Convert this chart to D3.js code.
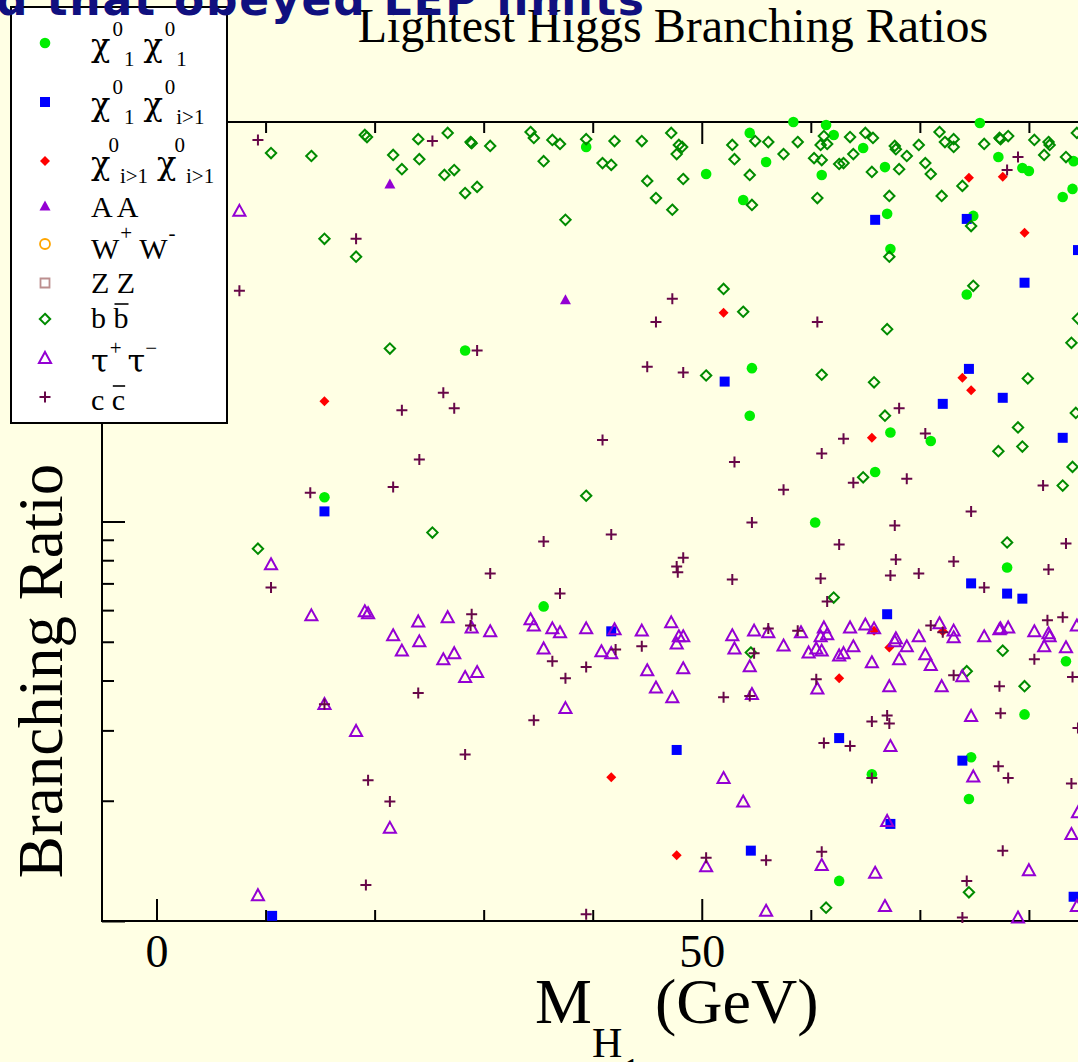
<!DOCTYPE html>
<html>
<head>
<meta charset="utf-8">
<script src="https://cdn.jsdelivr.net/npm/d3@7"></script>
<style>
  body { margin: 0; background: #ffffe4; }
  svg { display: block; font-family: "Liberation Serif", "Times New Roman", serif; }
</style>
</head>
<body>
<div id="chart"></div>
<script>
// [M_H1 (GeV), branching ratio]
const chi11 = [
  [58.4,1.000],[54.4,0.939],[39.4,0.866],[55.9,0.794],[50.4,0.741],[53.8,0.638],[28.3,0.268],[54.6,0.242],
  [54.4,0.184],[15.4,0.115],[35.5,0.0613],[60.4,0.0994],[67.3,0.167],[71.0,0.159],[65.9,0.133],[78.0,0.0767],
  [83.4,0.0447],[61.4,0.983],[62.1,0.928],[64.8,0.861],[61.0,0.737],[66.8,0.771],[67.0,0.589],[75.5,0.994],
  [77.2,0.817],[79.4,0.767],[80.0,0.754],[84.1,0.798],[84.0,0.680],[83.1,0.649],[74.9,0.582],[67.3,0.481],
  [74.3,0.370],[79.6,0.0329],[74.7,0.0257],[65.6,0.0233],[74.5,0.0202],[62.6,0.0126]
];
const chi1i = [
  [15.4,0.106],[52.1,0.224],[10.6,0.0103],[47.7,0.0268],[54.5,0.0150],[41.7,0.0531],[65.9,0.569],[74.3,0.572],
  [79.6,0.396],[84.5,0.478],[74.5,0.241],[77.6,0.204],[72.1,0.197],[83.1,0.162],[74.7,0.0700],[78.0,0.0660],
  [79.4,0.0641],[67.0,0.0586],[62.6,0.0287],[73.9,0.0252],[67.3,0.0175],[84.1,0.0115]
];
const chiii = [
  [15.4,0.200],[52.0,0.333],[41.7,0.0229],[47.7,0.0146],[74.5,0.725],[77.6,0.729],[79.6,0.528],[73.9,0.229],
  [74.7,0.213],[65.6,0.162],[65.8,0.0533],[67.2,0.0484],[62.6,0.0405],[72.1,0.0531]
];
const aa = [[21.4,0.700],[37.5,0.359]];
const ww = [];
const zz = [];
const bb = [
  [10.5,0.836],[14.2,0.822],[19.1,0.928],[19.3,0.917],[24.0,0.906],[21.7,0.827],[24.1,0.807],[22.5,0.762],
  [26.4,0.737],[26.7,0.939],[15.4,0.510],[18.3,0.460],[21.4,0.271],[28.8,0.891],[28.9,0.885],[30.6,0.871],
  [34.3,0.944],[34.6,0.912],[36.3,0.902],[37.0,0.881],[39.4,0.906],[42.0,0.896],[44.5,0.896],[47.2,0.939],
  [47.9,0.876],[48.2,0.866],[47.7,0.831],[35.5,0.798],[27.3,0.758],[40.9,0.789],[41.7,0.781],[28.3,0.664],
  [29.4,0.688],[45.0,0.712],[48.3,0.720],[45.8,0.645],[47.3,0.603],[37.5,0.569],[52.8,0.876],[53.0,0.807],
  [54.9,0.896],[56.1,0.891],[57.5,0.831],[58.8,0.891],[54.4,0.737],[54.6,0.620],[52.0,0.382],[53.8,0.335],
  [50.4,0.232],[61.2,0.922],[61.5,0.881],[60.9,0.876],[60.3,0.812],[61.0,0.803],[63.6,0.917],[63.9,0.831],
  [62.6,0.785],[63.0,0.789],[65.0,0.939],[65.7,0.912],[67.7,0.871],[67.8,0.855],[68.8,0.822],[69.9,0.876],
  [65.6,0.750],[68.1,0.762],[70.5,0.789],[71.0,0.741],[71.8,0.944],[72.3,0.891],[73.1,0.906],[73.1,0.866],
  [75.9,0.881],[77.3,0.912],[78.1,0.922],[77.4,0.906],[80.5,0.902],[81.8,0.891],[81.9,0.876],[81.4,0.827],
  [83.4,0.817],[84.4,0.939],[73.9,0.692],[60.6,0.645],[67.2,0.653],[72.0,0.653],[74.7,0.549],[67.2,0.460],
  [74.9,0.389],[67.0,0.303],[84.5,0.322],[83.9,0.280],[61.0,0.233],[65.8,0.223],[79.9,0.228],[66.8,0.184],
  [79.0,0.172],[77.2,0.150],[79.4,0.154],[84.0,0.137],[83.1,0.123],[64.8,0.129],[78.0,0.0886],[62.1,0.0645],
  [77.6,0.0475],[74.3,0.0422],[79.6,0.0387],[84.3,0.187],[25.3,0.0938],[9.3,0.0855],[39.4,0.116],[54.5,0.0470],
  [74.5,0.0118],[61.4,0.0108]
];
const tautau = [
  [7.6,0.599],[10.5,0.0781],[14.2,0.0582],[19.1,0.0596],[19.4,0.0589],[24.0,0.0562],[21.7,0.0519],[22.5,0.0475],
  [24.1,0.0501],[26.7,0.0576],[26.3,0.0452],[28.9,0.0543],[30.6,0.0531],[27.3,0.0468],[28.3,0.0408],[29.4,0.0420],
  [34.3,0.0569],[34.6,0.0549],[36.3,0.0540],[37.0,0.0528],[39.4,0.0540],[42.0,0.0537],[44.5,0.0533],[35.5,0.0481],
  [40.8,0.0473],[41.7,0.0468],[47.2,0.0559],[47.9,0.0516],[48.3,0.0516],[47.7,0.0495],[45.0,0.0424],[48.3,0.0429],
  [45.8,0.0384],[47.3,0.0363],[52.8,0.0519],[53.0,0.0481],[54.8,0.0533],[56.1,0.0528],[57.5,0.0489],[54.4,0.0434],
  [54.6,0.0370],[59.8,0.0470],[59.1,0.0528],[61.2,0.0543],[61.5,0.0522],[60.9,0.0516],[63.6,0.0543],[65.0,0.0552],
  [65.8,0.0540],[60.5,0.0481],[61.0,0.0475],[62.6,0.0462],[63.0,0.0468],[63.9,0.0487],[67.8,0.0510],[67.7,0.0501],
  [68.8,0.0487],[69.9,0.0516],[68.1,0.0452],[65.6,0.0444],[70.5,0.0465],[71.0,0.0437],[71.8,0.0556],[73.1,0.0533],
  [73.1,0.0513],[75.9,0.0516],[77.3,0.0537],[77.4,0.0540],[78.1,0.0543],[80.5,0.0531],[81.8,0.0525],[81.9,0.0516],
  [81.4,0.0487],[83.4,0.0484],[84.4,0.0549],[67.2,0.0387],[72.0,0.0387],[60.6,0.0382],[73.9,0.0410],[15.4,0.0349],
  [18.3,0.0299],[21.4,0.0171],[9.3,0.0116],[37.5,0.0341],[52.0,0.0228],[53.8,0.0199],[50.4,0.0137],[55.9,0.0106],
  [74.7,0.0326],[67.3,0.0274],[74.9,0.0230],[67.0,0.0178],[84.5,0.0187],[83.9,0.0165],[61.0,0.0138],[65.9,0.0132],
  [80.0,0.0134],[66.8,0.0109],[79.0,0.0102],[84.4,0.0109]
];
const cc = [
  [9.3,0.902],[25.3,0.896],[18.3,0.510],[7.6,0.378],[26.3,0.210],[29.4,0.268],[27.3,0.192],[47.3,0.361],
  [45.8,0.316],[45.0,0.244],[48.3,0.236],[79.0,0.817],[78.0,0.758],[60.6,0.316],[68.1,0.192],[22.5,0.190],
  [24.1,0.143],[21.7,0.122],[14.1,0.118],[10.5,0.0684],[24.0,0.0372],[40.9,0.160],[35.5,0.0891],[41.7,0.0928],
  [30.6,0.0741],[37.0,0.0660],[53.0,0.141],[57.5,0.120],[54.6,0.0994],[48.3,0.0812],[47.7,0.0771],[47.8,0.0746],
  [52.8,0.0716],[28.9,0.0586],[28.8,0.0549],[42.1,0.0478],[44.5,0.0487],[36.3,0.0447],[39.4,0.0432],[37.5,0.0405],
  [56.1,0.0540],[58.8,0.0533],[54.8,0.0468],[52.0,0.0363],[54.4,0.0366],[63.0,0.161],[70.5,0.166],[61.0,0.148],
  [63.9,0.125],[68.8,0.128],[81.3,0.123],[74.7,0.106],[67.7,0.0977],[62.6,0.0876],[83.4,0.0881],[67.8,0.0803],
  [73.1,0.0794],[81.8,0.0758],[60.9,0.0720],[67.3,0.0733],[69.9,0.0741],[75.9,0.0684],[61.5,0.0631],[81.7,0.0566],
  [83.1,0.0576],[71.0,0.0549],[72.1,0.0528],[60.5,0.0403],[73.1,0.0412],[77.3,0.0387],[80.5,0.0452],[84.0,0.0408],
  [15.4,0.0349],[19.4,0.0225],[21.4,0.0199],[19.2,0.0123],[34.6,0.0318],[28.3,0.0261],[50.4,0.0144],[55.9,0.0142],
  [39.4,0.0104],[65.6,0.0316],[67.0,0.0327],[67.2,0.0312],[61.2,0.0279],[63.6,0.0274],[77.4,0.0331],[65.6,0.0228],
  [77.2,0.0244],[78.1,0.0228],[83.9,0.0221],[61.0,0.0149],[77.6,0.0150],[74.3,0.0126],[73.9,0.0102],[84.5,0.0304]
];

const xMajor = [0, 50, 100];
const xMinor = [10, 20, 30, 40, 60, 70, 80, 90];
const xTickLabels = ["0", "50", "100"];
const yMajor = [0.01, 0.1, 1];

(() => {
  const W = 1078, H = 1062;
  const bg = "#ffffe4";
  // plot frame (right side runs off the page like in the original)
  const frame = { left: 102, top: 122, right: 1247, bottom: 921 };

  const x = d3.scaleLinear().domain([-5, 100]).range([frame.left, frame.right]);
  const y = d3.scaleLog().domain([0.01, 1]).range([frame.bottom, frame.top]);

  const svg = d3.select("#chart").append("svg")
    .attr("width", W).attr("height", H);

  svg.append("rect").attr("width", W).attr("height", H).attr("fill", bg);

  // ---- symbols (xmgrace-like shapes)
  const diamond = { draw(ctx, size) { const h = Math.sqrt(size / 2);
    ctx.moveTo(0, -h); ctx.lineTo(h, 0); ctx.lineTo(0, h); ctx.lineTo(-h, 0); ctx.closePath(); } };
  const triangle = { draw(ctx, size) { const s = Math.sqrt(size);
    ctx.moveTo(0, -0.55 * s); ctx.lineTo(0.55 * s, 0.45 * s); ctx.lineTo(-0.55 * s, 0.45 * s); ctx.closePath(); } };
  const plus = { draw(ctx, size) { const r = Math.sqrt(size) / 2;
    ctx.moveTo(-r, 0); ctx.lineTo(r, 0); ctx.moveTo(0, -r); ctx.lineTo(0, r); } };

  const series = [
    { data: chi11, type: d3.symbolCircle, size: Math.PI * 5.3 * 5.3, fill: "#00ee00", stroke: "none", sw: 0 },
    { data: chi1i, type: d3.symbolSquare, size: 100, fill: "#0000ff", stroke: "none", sw: 0 },
    { data: chiii, type: diamond, size: 50, fill: "#ff0000", stroke: "none", sw: 0 },
    { data: aa, type: triangle, size: 100, fill: "#9400d3", stroke: "none", sw: 0 },
    { data: ww, type: d3.symbolCircle, size: Math.PI * 25, fill: "none", stroke: "#ffa500", sw: 1.8 },
    { data: zz, type: d3.symbolSquare, size: 81, fill: "none", stroke: "#bc8f8f", sw: 1.8 },
    { data: bb, type: diamond, size: 54, fill: "none", stroke: "#008b00", sw: 2 },
    { data: tautau, type: triangle, size: 121, fill: "none", stroke: "#9400d3", sw: 2 },
    { data: cc, type: plus, size: 121, fill: "none", stroke: "#670748", sw: 2 }
  ];

  // ---- frame and ticks (inward)
  svg.append("rect")
    .attr("x", frame.left).attr("y", frame.top)
    .attr("width", frame.right - frame.left).attr("height", frame.bottom - frame.top)
    .attr("fill", "none").attr("stroke", "#000").attr("stroke-width", 2);

  const yMinor = y.ticks().filter(d => !yMajor.some(m => Math.abs(m - d) < 1e-9));

  function styleAxis(g) {
    g.select(".domain").remove();
    g.selectAll(".tick line").attr("stroke", "#000").attr("stroke-width", 2);
  }

  // labels only for ticks that land on the page
  const shown = xMajor.filter(d => x(d) < W - 20);
  svg.append("g").attr("transform", `translate(0,${frame.bottom})`)
    .call(d3.axisBottom(x).tickValues(xMajor).tickSize(-22).tickFormat(""))
    .call(styleAxis);
  svg.append("g").attr("transform", `translate(0,${frame.bottom})`)
    .call(d3.axisBottom(x).tickValues(shown).tickSize(0).tickPadding(13)
      .tickFormat(d => xTickLabels[xMajor.indexOf(d)]))
    .call(styleAxis)
    .call(g => g.selectAll("text")
      .attr("font-family", "Liberation Serif, serif").attr("font-size", 46).attr("fill", "#000"));
  svg.append("g").attr("transform", `translate(0,${frame.bottom})`)
    .call(d3.axisBottom(x).tickValues(xMinor).tickSize(-11).tickFormat(""))
    .call(styleAxis);
  svg.append("g").attr("transform", `translate(0,${frame.top})`)
    .call(d3.axisTop(x).tickValues(xMajor).tickSize(-22).tickFormat(""))
    .call(styleAxis);
  svg.append("g").attr("transform", `translate(0,${frame.top})`)
    .call(d3.axisTop(x).tickValues(xMinor).tickSize(-11).tickFormat(""))
    .call(styleAxis);
  svg.append("g").attr("transform", `translate(${frame.left},0)`)
    .call(d3.axisLeft(y).tickValues(yMajor).tickSize(-23).tickFormat(""))
    .call(styleAxis);
  svg.append("g").attr("transform", `translate(${frame.left},0)`)
    .call(d3.axisLeft(y).tickValues(yMinor).tickSize(-12).tickFormat(""))
    .call(styleAxis);

  // ---- points
  series.forEach(s => {
    svg.append("g").selectAll("path")
      .data(s.data)
      .join("path")
      .attr("transform", d => `translate(${x(d[0])},${y(d[1])})`)
      .attr("d", d3.symbol().type(s.type).size(s.size))
      .attr("fill", s.fill)
      .attr("stroke", s.stroke)
      .attr("stroke-width", s.sw);
  });

  // ---- titles
  svg.append("text")
    .attr("x", 673).attr("y", 42)
    .attr("text-anchor", "middle")
    .attr("font-size", 48)
    .text("Lightest Higgs Branching Ratios");

  svg.append("text")
    .attr("transform", "translate(62,671) rotate(-90)")
    .attr("text-anchor", "middle")
    .attr("font-size", 63)
    .text("Branching Ratio");

  const xl = svg.append("text").attr("x", 535).attr("y", 1023).attr("font-size", 64);
  xl.append("tspan").text("M");
  xl.append("tspan").attr("font-size", 42).attr("dy", 34).text("H");
  xl.append("tspan").attr("font-size", 36).attr("dy", 26).text("1");
  xl.append("tspan").attr("x", 655).attr("dy", -60).text("(GeV)");

  // ---- legend
  const lg = svg.append("g");
  lg.append("rect")
    .attr("x", 11).attr("y", 7).attr("width", 216).attr("height", 416)
    .attr("fill", "#fff").attr("stroke", "#000").attr("stroke-width", 2);

  // segments: t text, big = greek glyph, small = script size; bar = char index to overline
  const chi = (sub1, sub2, supDy, subDy, dx1) => [
    { t: "χ", big: true },
    { t: "0", small: true, dy: supDy, dx: dx1 },
    { t: sub1, small: true, dy: subDy - supDy, dx: 1 },
    { t: "χ", big: true, dy: -subDy, dx: 9 },
    { t: "0", small: true, dy: supDy, dx: dx1 },
    { t: sub2, small: true, dy: subDy - supDy, dx: 1 }
  ];
  const legendLabels = [
    { segs: chi("1", "1", -20, 10, 2) },
    { segs: chi("1", "i>1", -21, 9, 2) },
    { segs: chi("i>1", "i>1", -22, 9, -2) },
    { segs: [{ t: "A A" }] },
    { segs: [{ t: "W" }, { t: "+", small: true, dy: -19, dx: 1 }, { t: " W", dy: 19 }, { t: "-", small: true, dy: -19, dx: 1 }] },
    { segs: [{ t: "Z Z" }] },
    { segs: [{ t: "b b" }], bar: 2 },
    { segs: [{ t: "τ", big: true }, { t: "+", small: true, dy: -17, dx: 1 }, { t: "τ", big: true, dy: 17, dx: 6 },
             { t: "−", small: true, dy: -17 }] },
    { segs: [{ t: "c c" }], bar: 2 }
  ];
  const symY = [43, 102, 161, 206, 244, 283, 319, 358, 397];
  const baseY = [56, 115, 174, 217, 259, 293, 328, 372, 410];

  series.forEach((s, i) => {
    lg.append("path")
      .attr("transform", `translate(45,${symY[i]})`)
      .attr("d", d3.symbol().type(s.type).size(s.size))
      .attr("fill", s.fill).attr("stroke", s.stroke).attr("stroke-width", s.sw);
    const t = lg.append("text").attr("x", 91).attr("y", baseY[i]).attr("font-size", 30);
    legendLabels[i].segs.forEach(seg => {
      const ts = t.append("tspan").text(seg.t);
      if (seg.small) ts.attr("font-size", 21);
      if (seg.big) ts.attr("font-size", 32).attr("font-family", "DejaVu Serif, serif");
      if (seg.dy) ts.attr("dy", seg.dy);
      if (seg.dx) ts.attr("dx", seg.dx);
    });
    if (legendLabels[i].bar != null) {
      const ext = t.node().getExtentOfChar(legendLabels[i].bar);
      lg.append("line")
        .attr("x1", ext.x + 1).attr("x2", ext.x + ext.width)
        .attr("y1", baseY[i] - 24).attr("y2", baseY[i] - 24)
        .attr("stroke", "#000").attr("stroke-width", 1.6);
    }
  });

  // ---- cut-off slide heading at the very top
  svg.append("text")
    .attr("x", -4).attr("y", 15)
    .attr("font-family", "DejaVu Sans, Verdana, sans-serif")
    .attr("font-weight", "bold")
    .attr("font-size", 44)
    .attr("fill", "#10107f")
    .attr("textLength", 648)
    .attr("lengthAdjust", "spacing")
    .text("d that obeyed LEP limits");
})();
</script>
</body>
</html>
